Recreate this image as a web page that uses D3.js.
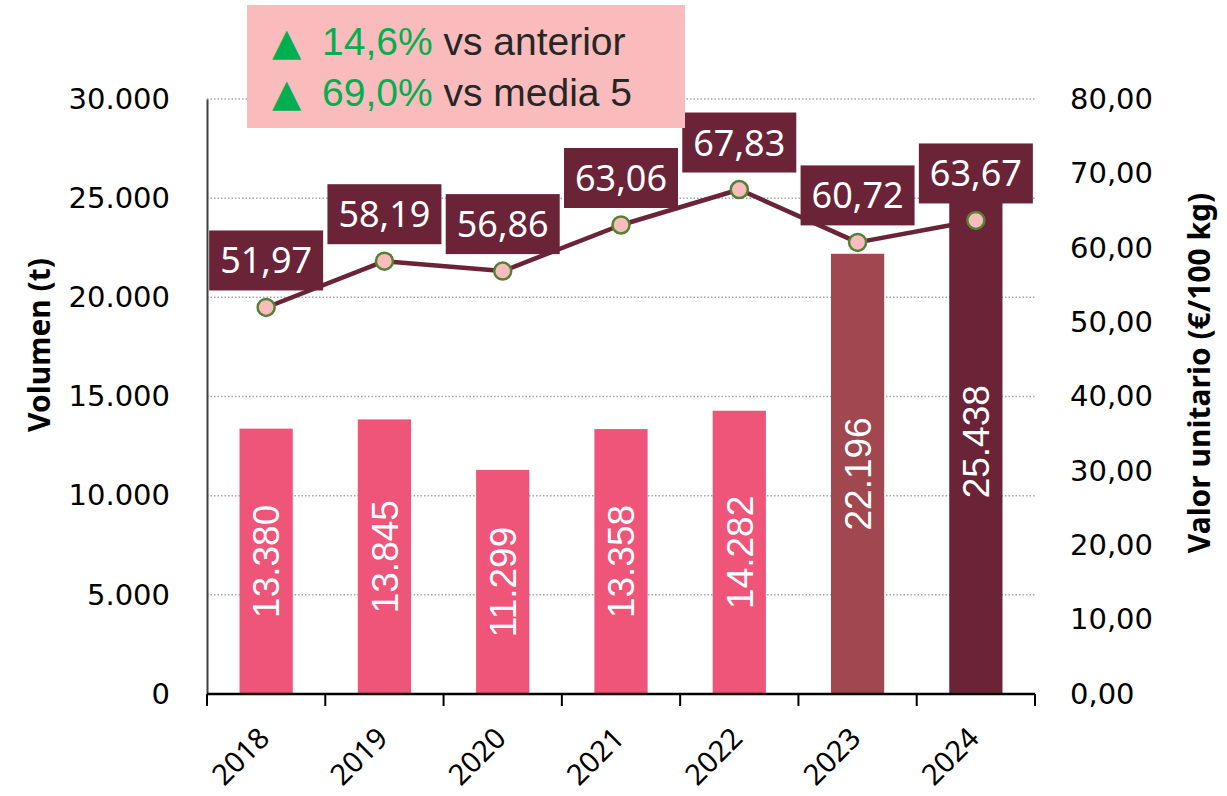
<!DOCTYPE html>
<html>
<head>
<meta charset="utf-8">
<script src="https://cdn.jsdelivr.net/npm/d3@7"></script>
<style>
  body { margin: 0; background: #fff; }
  svg { display: block; }
</style>
</head>
<body>
<svg id="chart" width="1227" height="796"></svg>
<script>
// data
var years = ["2018", "2019", "2020", "2021", "2022", "2023", "2024"];
var volumen = [13380, 13845, 11299, 13358, 14282, 22196, 25438];
var valorUnitario = [51.97, 58.19, 56.86, 63.06, 67.83, 60.72, 63.67];
var barColors = ["#EE5579", "#EE5579", "#EE5579", "#EE5579", "#EE5579", "#A0474F", "#6B2337"];
var leftTicks = [0, 5000, 10000, 15000, 20000, 25000, 30000];
var rightTicks = [0, 10, 20, 30, 40, 50, 60, 70, 80];
var infoLines = [
  { pct: "14,6%", txt: "vs anterior" },
  { pct: "69,0%", txt: "vs media 5" }
];

var es = d3.formatLocale({ decimal: ",", thousands: ".", grouping: [3], currency: ["", " €"] });
var fmtVol = es.format(",.0f");
var fmtVal = es.format(",.2f");

var svg = d3.select("#chart");

var x = d3.scaleBand()
  .domain(years)
  .range([207, 1035])
  .paddingInner(0.55)
  .paddingOuter(0.275);

var yL = d3.scaleLinear().domain([0, 30000]).range([694, 99]);
var yR = d3.scaleLinear().domain([0, 80]).range([694, 99]);

// gridlines
svg.append("g")
  .selectAll("line")
  .data(leftTicks.slice(1))
  .enter()
  .append("line")
  .attr("x1", 207)
  .attr("x2", 1035)
  .attr("y1", function (d) { return yL(d); })
  .attr("y2", function (d) { return yL(d); })
  .attr("stroke", "#A6A6A6")
  .attr("stroke-width", 1.5)
  .attr("stroke-dasharray", "1.5,2");

// bars
svg.append("g")
  .selectAll("rect")
  .data(volumen)
  .enter()
  .append("rect")
  .attr("x", function (d, i) { return x(years[i]); })
  .attr("y", function (d) { return yL(d); })
  .attr("width", x.bandwidth())
  .attr("height", function (d) { return yL(0) - yL(d); })
  .attr("fill", function (d, i) { return barColors[i]; });

// bar labels (rotated, centred in the bar)
svg.append("g")
  .selectAll("text")
  .data(volumen)
  .enter()
  .append("text")
  .attr("transform", function (d, i) {
    var cx = x(years[i]) + x.bandwidth() / 2;
    var cy = (yL(d) + yL(0)) / 2;
    return "translate(" + cx + "," + cy + ") rotate(-90)";
  })
  .attr("text-anchor", "middle")
  .attr("dy", "0.36em")
  .attr("font-family", "Liberation Sans, Arial, sans-serif")
  .attr("font-size", 37)
  .attr("fill", "#fff")
  .text(function (d) { return fmtVol(d); });

// left axis
var leftAxis = d3.axisLeft(yL).tickValues(leftTicks).tickSize(0).tickPadding(37)
  .tickFormat(function (d) { return fmtVol(d); });
var gl = svg.append("g").attr("transform", "translate(207,0)").call(leftAxis);
gl.select(".domain").attr("stroke", "#404040").attr("stroke-width", 2);
gl.selectAll("text")
  .attr("font-family", "DejaVu Sans, Verdana, sans-serif")
  .attr("font-size", 29)
  .attr("fill", "#000");

// right axis (labels only)
var rightAxis = d3.axisRight(yR).tickValues(rightTicks).tickSize(0).tickPadding(35)
  .tickFormat(function (d) { return fmtVal(d); });
var gr = svg.append("g").attr("transform", "translate(1035,0)").call(rightAxis);
gr.select(".domain").remove();
gr.selectAll("text")
  .attr("font-family", "DejaVu Sans, Verdana, sans-serif")
  .attr("font-size", 29)
  .attr("fill", "#000");

// x axis with ticks between categories
var gx = svg.append("g").attr("transform", "translate(0,694)");
gx.append("line")
  .attr("x1", 207).attr("x2", 1035)
  .attr("stroke", "#000").attr("stroke-width", 2.5);
var tickXs = years.map(function (y) { return x(y) - x.step() * x.paddingInner() / 2; });
tickXs.push(1035);
gx.selectAll(".xt")
  .data(tickXs)
  .enter()
  .append("line")
  .attr("class", "xt")
  .attr("x1", function (d) { return d; })
  .attr("x2", function (d) { return d; })
  .attr("y1", 0)
  .attr("y2", 12)
  .attr("stroke", "#000")
  .attr("stroke-width", 2);
gx.selectAll(".xl")
  .data(years)
  .enter()
  .append("text")
  .attr("class", "xl")
  .attr("transform", function (d) {
    return "translate(" + (x(d) + x.bandwidth() / 2 + 5) + ",46) rotate(-45)";
  })
  .attr("text-anchor", "end")
  .attr("font-family", "Noto Sans, sans-serif")
  .attr("font-size", 29)
  .attr("fill", "#000")
  .text(function (d) { return d; });

// axis titles
svg.append("text")
  .attr("transform", "translate(50,345) rotate(-90)")
  .attr("text-anchor", "middle")
  .attr("font-family", "Noto Sans, sans-serif")
  .attr("font-weight", "bold")
  .attr("font-size", 30)
  .attr("fill", "#000")
  .text("Volumen (t)");

svg.append("text")
  .attr("transform", "translate(1210,373) rotate(-90)")
  .attr("text-anchor", "middle")
  .attr("font-family", "Noto Sans, sans-serif")
  .attr("font-weight", "bold")
  .attr("font-size", 30)
  .attr("fill", "#000")
  .text("Valor unitario (€/100 kg)");

// price line
var line = d3.line()
  .x(function (d, i) { return x(years[i]) + x.bandwidth() / 2; })
  .y(function (d) { return yR(d); });

svg.append("path")
  .datum(valorUnitario)
  .attr("d", line)
  .attr("fill", "none")
  .attr("stroke", "#6B2337")
  .attr("stroke-width", 4.5)
  .attr("stroke-linejoin", "round");

svg.append("g")
  .selectAll("circle")
  .data(valorUnitario)
  .enter()
  .append("circle")
  .attr("cx", function (d, i) { return x(years[i]) + x.bandwidth() / 2; })
  .attr("cy", function (d) { return yR(d); })
  .attr("r", 8.5)
  .attr("fill", "#F8BCBC")
  .attr("stroke", "#548235")
  .attr("stroke-width", 2.5);

// price labels in dark boxes
var labels = svg.append("g")
  .selectAll("g")
  .data(valorUnitario)
  .enter()
  .append("g")
  .attr("transform", function (d, i) {
    return "translate(" + (x(years[i]) + x.bandwidth() / 2) + "," + (yR(d) - 47) + ")";
  });
labels.append("rect")
  .attr("x", -57)
  .attr("y", -30)
  .attr("width", 114)
  .attr("height", 60)
  .attr("fill", "#6B2337");
labels.append("text")
  .attr("text-anchor", "middle")
  .attr("dy", 13)
  .attr("font-family", "Noto Sans, sans-serif")
  .attr("font-size", 36)
  .attr("fill", "#fff")
  .text(function (d) { return fmtVal(d); });

// info box
svg.append("rect")
  .attr("x", 247)
  .attr("y", 5)
  .attr("width", 438)
  .attr("height", 123)
  .attr("fill", "#F9BBBB");

var info = svg.append("g")
  .selectAll("text")
  .data(infoLines)
  .enter()
  .append("text")
  .attr("y", function (d, i) { return 55 + i * 51; })
  .attr("font-family", "Liberation Sans, Arial, sans-serif")
  .attr("font-size", 39);
info.append("tspan")
  .attr("x", 272)
  .attr("font-family", "DejaVu Sans, sans-serif")
  .attr("font-size", 38)
  .attr("fill", "#00B050")
  .text("▲");
info.append("tspan")
  .attr("x", 322)
  .attr("fill", "#00B050")
  .text(function (d) { return d.pct; });
info.append("tspan")
  .attr("fill", "#262626")
  .text(function (d) { return " " + d.txt; });
</script>
</body>
</html>
